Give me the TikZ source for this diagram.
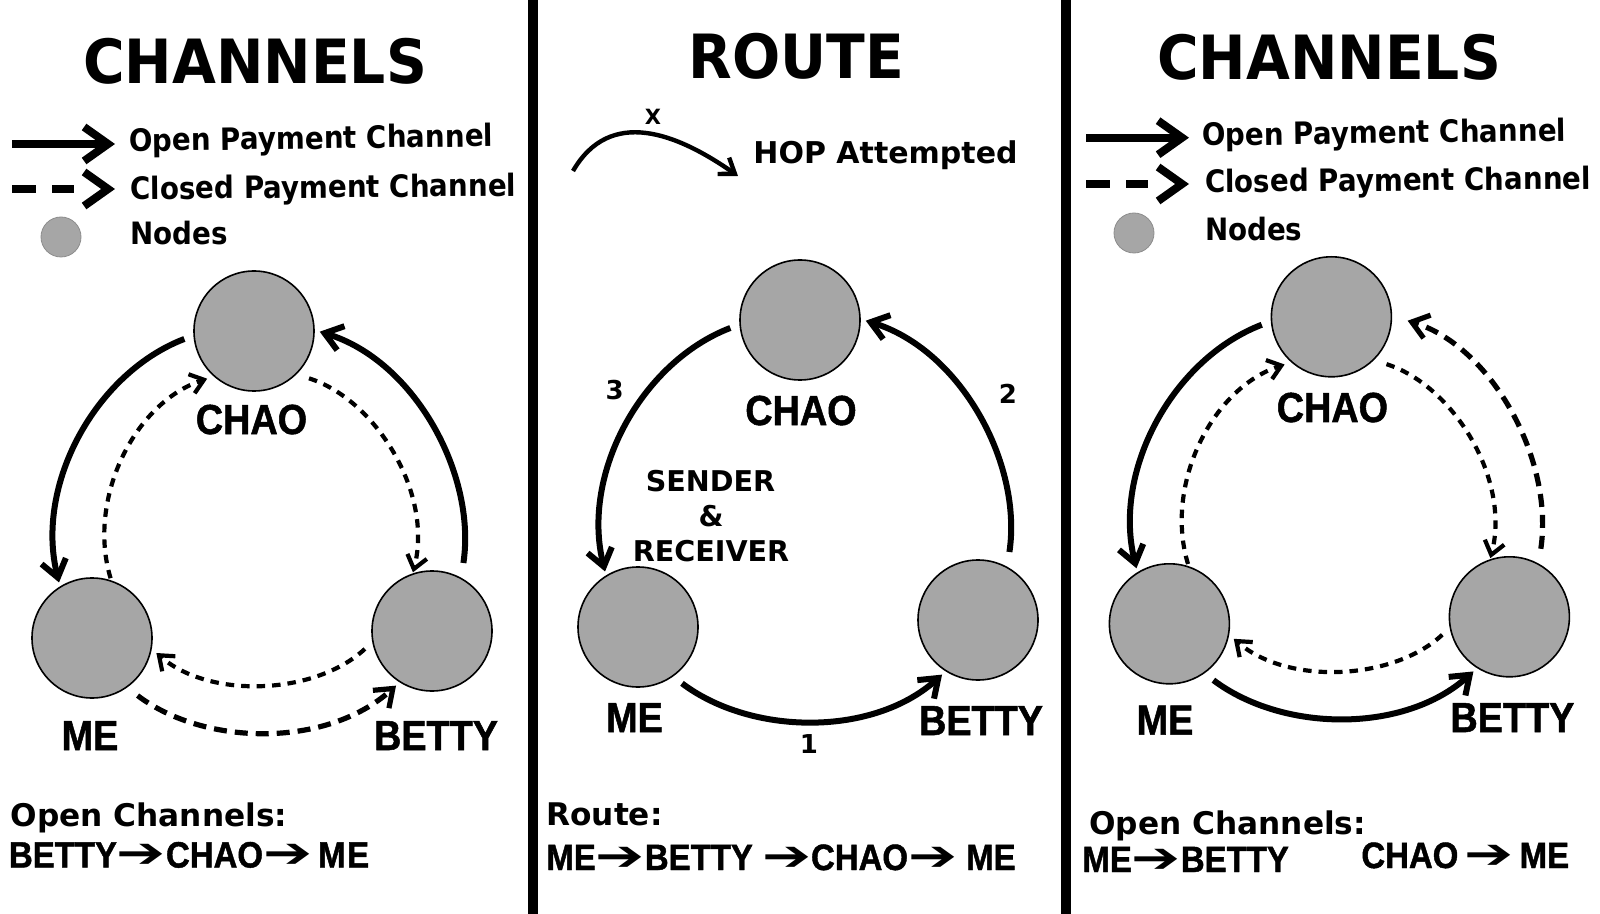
\documentclass[tikz,border=0pt]{standalone}
\usepackage{fontspec}
\usepackage{graphicx}
\usetikzlibrary{arrows.meta}
\setmainfont{DejaVu Sans}
\newfontfamily\tfont{DejaVu Sans}[FakeStretch=0.93]
\newfontfamily\gfont{DejaVu Sans}[FakeStretch=0.9]
\newfontfamily\vfont{DejaVu Sans}
\newfontfamily\lfont{Liberation Sans Bold}[FakeStretch=0.9, FakeBold=1.2]
\newfontfamily\afont{DejaVu Sans}
\definecolor{nodegray}{HTML}{A6A6A6}
\newcommand\rarr{{\afont\scalebox{1.6}[1.15]{➔}}}
\tikzset{
  pnode/.style={circle, draw=black, line width=0.8pt, fill=nodegray, minimum size=60pt, inner sep=0pt, outer sep=0pt},
  legnode/.style={circle, draw=nodegray!85!black, line width=0.4pt, fill=nodegray, minimum size=20pt, inner sep=0pt},
  plabel/.style={anchor=base, inner sep=0pt, font=\lfont\fontsize{21}{21}\selectfont},
  ptitle/.style={anchor=base, inner sep=0pt, font=\tfont\bfseries\fontsize{30.5}{30.5}\selectfont},
  legtext/.style={anchor=base west, inner sep=0pt, font=\gfont\bfseries\fontsize{15.4}{15.4}\selectfont},
  plaintext/.style={anchor=base, inner sep=0pt, font=\vfont\bfseries\fontsize{14.3}{14.3}\selectfont},
  numtext/.style={anchor=base, inner sep=0pt, font=\vfont\bfseries\fontsize{13}{13}\selectfont},
  bottomhead/.style={anchor=base west, inner sep=0pt, font=\vfont\bfseries\fontsize{15.6}{15.6}\selectfont},
  routetext/.style={anchor=base west, inner sep=0pt, font=\lfont\fontsize{18.3}{18.3}\selectfont},
  opench/.style={line width=3pt, -{Straight Barb[length=8.5pt,width=12.5pt]}},
  closedin/.style={line width=2.1pt, dash pattern=on 4.25pt off 3.5pt, -{Straight Barb[length=6.5pt,width=10pt]}},
  closedout/.style={line width=2.6pt, dash pattern=on 6.5pt off 4pt, -{Straight Barb[length=8pt,width=12pt]}},
  legopen/.style={line width=4pt, -{Straight Barb[length=12pt,width=17pt]}},
  legclosed/.style={line width=4pt, dash pattern=on 12pt off 8pt on 11pt off 40pt, -{Straight Barb[length=12pt,width=17pt]}},
  hoparr/.style={line width=2.2pt, -{Straight Barb[length=7pt,width=10pt]}},
  divider/.style={line width=5pt, black}
}
\begin{document}
\begin{tikzpicture}[x=0.5pt, y=0.5pt]
\fill[white] (0,0) rectangle (1600,-914);
\useasboundingbox (0,0) rectangle (1600,-914);

% dividers
\coordinate (d1t) at (533,0); \coordinate (d1b) at (533,-914);
\coordinate (d2t) at (1066,0); \coordinate (d2b) at (1066,-914);
\draw[divider] (d1t) -- (d1b);
\draw[divider] (d2t) -- (d2b);

% ================= LEFT PANEL =================
\node[ptitle] (Ltitle) at (255,-83.7) {CHANNELS};
\coordinate (LlgA1) at (12,-144); \coordinate (LlgA2) at (115,-144);
\coordinate (LlgB1) at (12,-189); \coordinate (LlgB2) at (115,-189);
\draw[legopen] (LlgA1) -- (LlgA2);
\draw[legclosed] (LlgB1) -- (LlgB2);
\node[legtext, rotate=0.8] (Llg1) at (129,-151.5) {Open Payment Channel};
\node[legtext, rotate=0.5] (Llg2) at (130,-199.5) {Closed Payment Channel};
\node[legnode] (Llgn) at (61,-237) {};
\node[legtext] (Llg3) at (130,-244.6) {Nodes};

\begin{scope}[shift={(259,-533)}]
\node[pnode] (LC) at (-5,202) {};
\node[pnode] (LM) at (-167,-105) {};
\node[pnode] (LB) at (173,-98) {};
\node[plabel] (LCl) at (-7.5,99) {CHAO};
\node[plabel] (LMl) at (-169,-217) {ME};
\node[plabel] (LBl) at (177,-217) {BETTY};
\draw[opench, shorten <=5.25pt, shorten >=2.4pt] (LC.184.8) to[out=201,in=104,distance=52.8pt] (LM.122.5);
\draw[closedout, shorten <=7pt, shorten >=2.8pt] (LM.305.9) to[out=323,in=222,distance=49.4pt] (LB.238.3);
\draw[opench, shorten <=7.85pt, shorten >=3pt] (LB.61.9) to[out=81.5,in=343,distance=52.6pt] (LC.1.4);
\draw[closedin, shorten <=1.6pt, shorten >=3.9pt] (LM.71.8) to[out=107,in=198,distance=42.5pt] (LC.229.7);
\draw[closedin, shorten <=7pt, shorten >=1pt] (LC.314.9) to[out=342.5,in=75.4,distance=41.9pt] (LB.109.9);
\draw[closedin, shorten <=5.5pt, shorten >=3.5pt] (LB.190.4) to[out=223,in=319,distance=39.1pt] (LM.350.4);
\end{scope}

\node[bottomhead] (Lbh) at (10.3,-826) {Open Channels:};
\node[routetext] (Lrt) at (8.6,-867.5) {BETTY\rarr CHAO\rarr\,M\kern0.8pt E};

% ================= MIDDLE PANEL =================
\node[ptitle] (Mtitle) at (796.3,-78.5) {ROUTE};
\coordinate (hopS) at (573,-171); \coordinate (hopE) at (738,-176);
\draw[hoparr] (hopS) to[out=60,in=145,looseness=1.15] (hopE);
\node[inner sep=0pt, font=\vfont\bfseries\fontsize{10.5}{10.5}\selectfont] (hopX) at (653,-117) {X};
\node[anchor=base west, inner sep=0pt, font=\vfont\bfseries\fontsize{15}{15}\selectfont] (hopT) at (753,-163.6) {HOP Attempted};

\begin{scope}[shift={(805,-522)}]
\node[pnode] (MC) at (-5,202) {};
\node[pnode] (MM) at (-167,-105) {};
\node[pnode] (MB) at (173,-98) {};
\node[plabel] (MCl) at (-4,97) {CHAO};
\node[plabel] (MMl) at (-170.5,-210) {ME};
\node[plabel] (MBl) at (176,-213) {BETTY};
\draw[opench, shorten <=5.25pt, shorten >=2.4pt] (MC.184.8) to[out=201,in=104,distance=52.8pt] (MM.122.5);
\draw[opench, shorten <=6pt, shorten >=2.8pt] (MM.305.9) to[out=323,in=222,distance=49.4pt] (MB.238.3);
\draw[opench, shorten <=7.85pt, shorten >=3pt] (MB.61.9) to[out=81.5,in=343,distance=52.6pt] (MC.1.4);
\end{scope}
\node[numtext] (n3) at (614.7,-400) {3};
\node[numtext] (n2) at (1008,-403) {2};
\node[numtext] (n1) at (809,-753) {1};
\node[plaintext] (sr1) at (710.5,-491.7) {SENDER};
\node[plaintext] (sr2) at (711,-526.7) {\&};
\node[plaintext] (sr3) at (711,-561.7) {RECEIVER};

\node[bottomhead] (Mbh) at (546,-825) {Route:};
\node[routetext] (Mrt) at (546,-870) {ME\rarr BETTY \rarr CHAO\rarr\ ME};

% ================= RIGHT PANEL =================
\node[ptitle] (Rtitle) at (1329,-79.2) {CHANNELS};
\coordinate (RlgA1) at (1086,-137.7); \coordinate (RlgA2) at (1189,-137.7);
\coordinate (RlgB1) at (1086,-184); \coordinate (RlgB2) at (1189,-184);
\draw[legopen] (RlgA1) -- (RlgA2);
\draw[legclosed] (RlgB1) -- (RlgB2);
\node[legtext, rotate=0.8] (Rlg1) at (1202,-146) {Open Payment Channel};
\node[legtext, rotate=0.5] (Rlg2) at (1204.6,-192.5) {Closed Payment Channel};
\node[legnode] (Rlgn) at (1134,-233) {};
\node[legtext] (Rlg3) at (1204.6,-241) {Nodes};

\begin{scope}[shift={(1336.4,-518.8)}]
\node[pnode] (RC) at (-5,202) {};
\node[pnode] (RM) at (-167,-105) {};
\node[pnode] (RB) at (173,-98) {};
\node[plabel] (RCl) at (-4,96.8) {CHAO};
\node[plabel] (RMl) at (-171.4,-215.8) {ME};
\node[plabel] (RBl) at (176,-213.2) {BETTY};
\draw[opench, shorten <=5.25pt, shorten >=2.4pt] (RC.184.8) to[out=201,in=104,distance=52.8pt] (RM.122.5);
\draw[opench, shorten <=6pt, shorten >=2.8pt] (RM.305.9) to[out=323,in=222,distance=49.4pt] (RB.238.3);
\draw[closedout, shorten <=7.85pt, shorten >=8.5pt] (RB.61.9) to[out=81.5,in=343,distance=52.6pt] (RC.1.4);
\draw[closedin, shorten <=1.6pt, shorten >=3.9pt] (RM.71.8) to[out=107,in=198,distance=42.5pt] (RC.229.7);
\draw[closedin, shorten <=7pt, shorten >=1pt] (RC.314.9) to[out=342.5,in=75.4,distance=41.9pt] (RB.109.9);
\draw[closedin, shorten <=5.5pt, shorten >=3.5pt] (RB.190.4) to[out=223,in=319,distance=39.1pt] (RM.350.4);
\end{scope}

\node[bottomhead] (Rbh) at (1089,-834) {Open Channels:};
\node[routetext] (Rrt1) at (1082,-872) {ME\rarr BETTY};
\node[routetext] (Rrt2) at (1361,-868) {CHAO\,\rarr\,ME};
\end{tikzpicture}
\end{document}
